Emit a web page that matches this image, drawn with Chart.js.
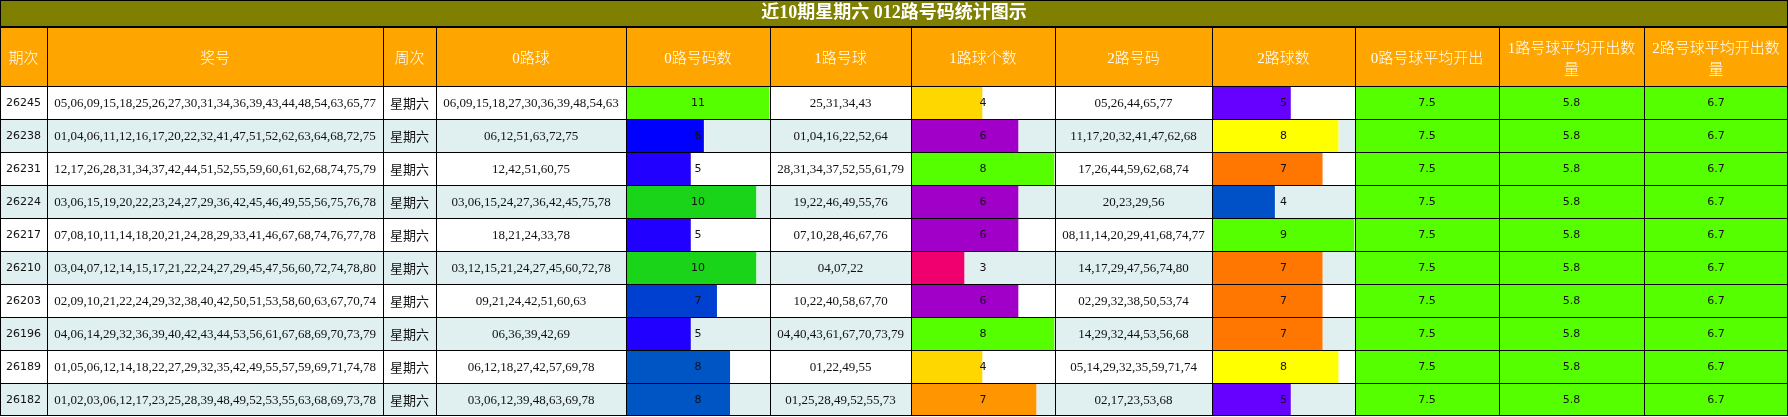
<!DOCTYPE html>
<html>
<head>
<meta charset="utf-8">
<title>近10期星期六 012路号码统计图示</title>
<script src="https://cdn.jsdelivr.net/npm/chart.js@4.4.1/dist/chart.umd.min.js"></script>
<style>
  html, body { margin: 0; padding: 0; background: #fff; }
  #wrap { width: 1788px; height: 417px; position: relative; }
</style>
</head>
<body>
<div id="wrap"><canvas id="roadChart"></canvas></div>
<script>
// data
const periods = ["26245", "26238", "26231", "26224", "26217", "26210", "26203", "26196", "26189", "26182"];

const drawNums = [
  "05,06,09,15,18,25,26,27,30,31,34,36,39,43,44,48,54,63,65,77",
  "01,04,06,11,12,16,17,20,22,32,41,47,51,52,62,63,64,68,72,75",
  "12,17,26,28,31,34,37,42,44,51,52,55,59,60,61,62,68,74,75,79",
  "03,06,15,19,20,22,23,24,27,29,36,42,45,46,49,55,56,75,76,78",
  "07,08,10,11,14,18,20,21,24,28,29,33,41,46,67,68,74,76,77,78",
  "03,04,07,12,14,15,17,21,22,24,27,29,45,47,56,60,72,74,78,80",
  "02,09,10,21,22,24,29,32,38,40,42,50,51,53,58,60,63,67,70,74",
  "04,06,14,29,32,36,39,40,42,43,44,53,56,61,67,68,69,70,73,79",
  "01,05,06,12,14,18,22,27,29,32,35,42,49,55,57,59,69,71,74,78",
  "01,02,03,06,12,17,23,25,28,39,48,49,52,53,55,63,68,69,73,78",
];

const weekdays = ["星期六", "星期六", "星期六", "星期六", "星期六", "星期六", "星期六", "星期六", "星期六", "星期六"];

const road0Nums = [
  "06,09,15,18,27,30,36,39,48,54,63",
  "06,12,51,63,72,75",
  "12,42,51,60,75",
  "03,06,15,24,27,36,42,45,75,78",
  "18,21,24,33,78",
  "03,12,15,21,24,27,45,60,72,78",
  "09,21,24,42,51,60,63",
  "06,36,39,42,69",
  "06,12,18,27,42,57,69,78",
  "03,06,12,39,48,63,69,78",
];
const road0Counts = [11, 6, 5, 10, 5, 10, 7, 5, 8, 8];

const road1Nums = [
  "25,31,34,43",
  "01,04,16,22,52,64",
  "28,31,34,37,52,55,61,79",
  "19,22,46,49,55,76",
  "07,10,28,46,67,76",
  "04,07,22",
  "10,22,40,58,67,70",
  "04,40,43,61,67,70,73,79",
  "01,22,49,55",
  "01,25,28,49,52,55,73",
];
const road1Counts = [4, 6, 8, 6, 6, 3, 6, 8, 4, 7];

const road2Nums = [
  "05,26,44,65,77",
  "11,17,20,32,41,47,62,68",
  "17,26,44,59,62,68,74",
  "20,23,29,56",
  "08,11,14,20,29,41,68,74,77",
  "14,17,29,47,56,74,80",
  "02,29,32,38,50,53,74",
  "14,29,32,44,53,56,68",
  "05,14,29,32,35,59,71,74",
  "02,17,23,53,68",
];
const road2Counts = [5, 8, 7, 4, 9, 7, 7, 7, 8, 5];

const avg0 = [7.5, 7.5, 7.5, 7.5, 7.5, 7.5, 7.5, 7.5, 7.5, 7.5];
const avg1 = [5.8, 5.8, 5.8, 5.8, 5.8, 5.8, 5.8, 5.8, 5.8, 5.8];
const avg2 = [6.7, 6.7, 6.7, 6.7, 6.7, 6.7, 6.7, 6.7, 6.7, 6.7];

const headers = ["期次", "奖号", "周次", "0路球", "0路号码数", "1路号球", "1路球个数", "2路号码", "2路球数",
  "0路号球平均开出", "1路号球平均开出数量", "2路号球平均开出数量"];

const titleText = "近10期星期六 012路号码统计图示";

// styles
const road0Colors = ["#55ff00", "#0000ff", "#2200ff", "#1ad41a", "#2200ff", "#1ad41a", "#0040d0", "#2200ff", "#0055c4", "#0055c4"];
const road1Colors = ["#ffd700", "#a000c8", "#55ff00", "#a000c8", "#a000c8", "#f0006e", "#a000c8", "#55ff00", "#ffd700", "#ff9500"];
const road2Colors = ["#6600ff", "#ffff00", "#ff7700", "#0050c8", "#55ff00", "#ff7700", "#ff7700", "#ff7700", "#ffff00", "#6600ff"];

const colWidths = [47, 336, 53, 190, 144, 141, 144, 157, 143, 144, 145, 144];
const HEADER_H = 59;
const SANS = '11px "DejaVu Sans", sans-serif';
const SERIF = '13px "Liberation Serif", "Noto Sans CJK SC", serif';
const CJK = '13px "Noto Sans CJK SC", sans-serif';
const HEAD = '300 15px "Liberation Serif", "Noto Sans CJK SC", sans-serif';

const columns = [
  { cells: periods, font: SANS },
  { cells: drawNums, font: SERIF },
  { cells: weekdays, font: CJK },
  { cells: road0Nums, font: SERIF },
  { cells: road0Counts, font: SANS, max: Math.max(...road0Counts) },
  { cells: road1Nums, font: SERIF },
  { cells: road1Counts, font: SANS, max: Math.max(...road1Counts) },
  { cells: road2Nums, font: SERIF },
  { cells: road2Counts, font: SANS, max: Math.max(...road2Counts) },
  { cells: avg0, font: SANS, fill: "#55ff00" },
  { cells: avg1, font: SANS, fill: "#55ff00" },
  { cells: avg2, font: SANS, fill: "#55ff00" },
];

function colId(i) {
  return "c" + i;
}

function rowEdge(chart, v) {
  return chart.scales.y.getPixelForValue(v);
}

function wrapText(ctx, text, maxWidth) {
  const lines = [];
  let line = "";
  for (const ch of text) {
    if (line && ctx.measureText(line + ch).width > maxWidth) {
      lines.push(line);
      line = ch;
    } else {
      line += ch;
    }
  }
  if (line) lines.push(line);
  return lines;
}

const tablePlugin = {
  id: "tablePlugin",
  beforeDraw(chart) {
    const ctx = chart.ctx;
    const area = chart.chartArea;
    const tb = chart.titleBlock;
    ctx.save();
    // title bar
    ctx.fillStyle = "#808000";
    ctx.fillRect(0, tb.top, chart.width, tb.bottom - tb.top);
    // header + rows
    columns.forEach((col, i) => {
      const sc = chart.scales[colId(i)];
      ctx.fillStyle = "#ffa500";
      ctx.fillRect(sc.left, sc.top, sc.right - sc.left, sc.bottom - sc.top);
      for (let r = 0; r < periods.length; r++) {
        const top = rowEdge(chart, r - 0.5);
        const bottom = rowEdge(chart, r + 0.5);
        ctx.fillStyle = col.fill || (r % 2 === 0 ? "#ffffff" : "#e0f0f0");
        ctx.fillRect(sc.left, top, sc.right - sc.left, bottom - top);
      }
    });
    ctx.restore();
  },
  afterDatasetsDraw(chart) {
    const ctx = chart.ctx;
    const area = chart.chartArea;
    const tb = chart.titleBlock;
    ctx.save();
    ctx.textAlign = "center";
    ctx.textBaseline = "middle";

    columns.forEach((col, i) => {
      const sc = chart.scales[colId(i)];
      const cx = (sc.left + sc.right) / 2;
      // header text
      ctx.font = HEAD;
      ctx.fillStyle = "#ffffff";
      const lines = wrapText(ctx, headers[i], sc.right - sc.left - 8);
      const hMid = (sc.top + sc.bottom) / 2 + 3;
      lines.forEach((ln, k) => {
        ctx.fillText(ln, cx, hMid + (k - (lines.length - 1) / 2) * 21);
      });
      // cell text
      ctx.font = col.font;
      ctx.fillStyle = "#111111";
      col.cells.forEach((val, r) => {
        const cy = chart.scales.y.getPixelForValue(r) + 1;
        ctx.fillText(String(val), cx, cy);
      });
    });

    // grid lines
    ctx.fillStyle = "#000000";
    const W = chart.width;
    const bottom = Math.round(area.bottom);
    ctx.fillRect(0, 0, W, 1);
    ctx.fillRect(0, tb.bottom - 1, W, 2);
    const headTop = chart.scales[colId(0)].top;
    for (let r = 0; r <= periods.length; r++) {
      const y = Math.round(rowEdge(chart, r - 0.5));
      ctx.fillRect(0, r === periods.length ? y - 1 : y, W, 1);
    }
    columns.forEach((col, i) => {
      const sc = chart.scales[colId(i)];
      ctx.fillRect(Math.round(sc.left), headTop, 1, bottom - headTop);
    });
    ctx.fillRect(0, 0, 1, bottom);
    ctx.fillRect(W - 1, 0, 1, bottom);
    ctx.restore();
  },
};

function buildScales() {
  const scales = {
    y: {
      type: "category",
      labels: periods,
      offset: true,
      display: false,
    },
  };
  columns.forEach((col, i) => {
    scales[colId(i)] = {
      type: "linear",
      axis: "x",
      position: "top",
      stack: "cols",
      stackWeight: colWidths[i],
      weight: 100 - i,
      min: 0,
      max: col.max || 1,
      display: false,
      afterFit: (scale) => {
        scale.height = HEADER_H;
      },
    };
  });
  return scales;
}

function barSet(counts, colors, axisId) {
  return {
    data: counts,
    xAxisID: axisId,
    yAxisID: "y",
    backgroundColor: colors,
    borderColor: "rgba(255,255,255,0.5)",
    borderWidth: { top: 0, right: 1, bottom: 0, left: 0 },
    borderSkipped: "start",
    barPercentage: 1,
    categoryPercentage: 1,
    grouped: false,
  };
}

const ctx = document.getElementById("roadChart").getContext("2d");
new Chart(ctx, {
  type: "bar",
  data: {
    labels: periods,
    datasets: [
      barSet(road0Counts, road0Colors, colId(4)),
      barSet(road1Counts, road1Colors, colId(6)),
      barSet(road2Counts, road2Colors, colId(8)),
    ],
  },
  options: {
    indexAxis: "y",
    responsive: true,
    maintainAspectRatio: false,
    animation: false,
    layout: { padding: { top: 0, left: 0, right: 0, bottom: 1 } },
    scales: buildScales(),
    plugins: {
      legend: { display: false },
      tooltip: { enabled: false },
      title: {
        display: true,
        text: titleText,
        color: "#ffffff",
        padding: { top: 3, bottom: 3 },
        font: {
          family: '"Liberation Serif", "Noto Sans CJK SC", serif',
          size: 18,
          weight: "bold",
          lineHeight: "21px",
        },
      },
    },
  },
  plugins: [tablePlugin],
});
</script>
</body>
</html>
